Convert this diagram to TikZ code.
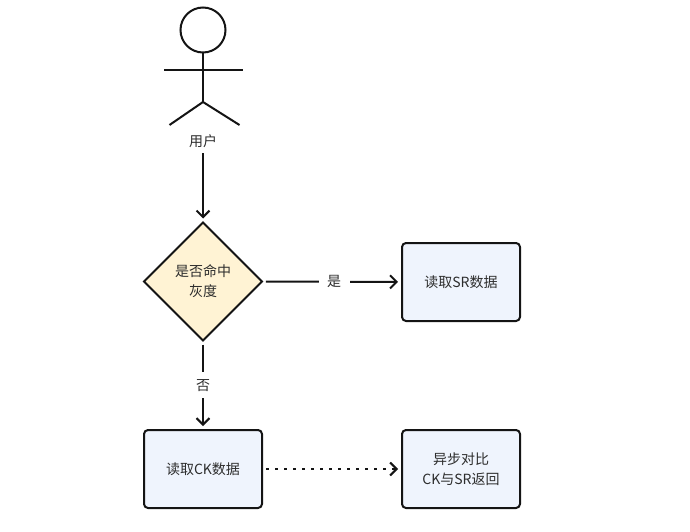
\documentclass[tikz,border=0pt]{standalone}
\usepackage{fontspec}
\setmainfont{Noto Sans CJK SC}
\usetikzlibrary{shapes.geometric}
\usetikzlibrary{arrows.meta}
\definecolor{nyellow}{RGB}{255, 243, 212}
\definecolor{nblue}{RGB}{239, 244, 253}
\definecolor{nink}{RGB}{20, 20, 20}
\definecolor{ntext}{RGB}{45, 45, 45}
\begin{document}
\begin{tikzpicture}[x=1pt,y=-1pt,line width=2pt,draw=nink]
    \tikzstyle{every node}=[font=\fontsize{14}{20}\selectfont,text=ntext,align=center,inner sep=0,outer sep=0]
    \tikzstyle{box}=[draw,fill=nblue,rounded corners=4pt,minimum width=118pt,minimum height=78pt]
    \tikzstyle{conn}=[-{Straight Barb[length=6.5pt,width=13pt]},shorten <=4pt,shorten >=4pt]
    \tikzstyle{lab}=[fill=white,inner xsep=8.5pt,inner ysep=7pt]
    \useasboundingbox (0,0) rectangle (690,532);
    % actor
    \node[draw,circle,minimum size=45pt] (head) at (203,30) {};
    \coordinate (hip) at (203,102);
    \coordinate (handl) at (164,70);
    \coordinate (handr) at (242.5,70);
    \coordinate (footl) at (169.5,125);
    \coordinate (footr) at (239.5,125);
    \draw (head.south) -- (hip);
    \draw (handl) -- (handr);
    \draw (footl) -- (hip) -- (footr);
    \node (user) at (203,141.5) {用户};
    % flow
    \node[draw,diamond,fill=nyellow,minimum width=118pt,minimum height=118pt] (gray) at (203,281.5) {是否命中\\灰度};
    \node[box] (sr) at (461,282) {读取SR数据};
    \node[box] (ck) at (203,469) {读取CK数据};
    \node[box] (cmp) at (461,469) {异步对比\\CK与SR返回};
    \draw (user.south) [conn,shorten <=5pt] -- (gray.north);
    \draw (gray) -- node[lab,pos=.515] (yes) {是} (sr) [conn];
    \draw (gray) -- node[lab] (no) {否} (ck) [conn];
    \draw (ck) -- (cmp) [conn,dash pattern=on 2.5pt off 6.5pt];
\end{tikzpicture}
\end{document}
